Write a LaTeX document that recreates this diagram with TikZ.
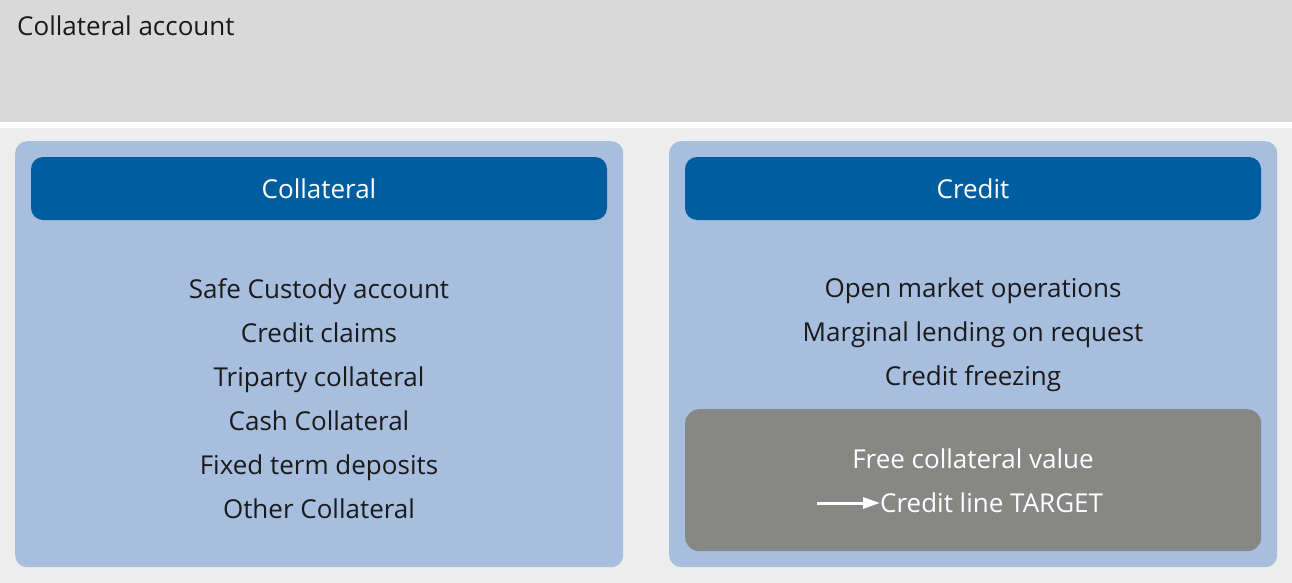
\documentclass[tikz,border=0pt]{standalone}
\usepackage{fontspec}
\setmainfont{Open Sans}
\usepackage{xcolor}
\usetikzlibrary{positioning, arrows.meta}
\definecolor{topbg}{RGB}{217,217,217}
\definecolor{pagebg}{RGB}{237,237,237}
\definecolor{panelbg}{RGB}{168,190,223}
\definecolor{headbg}{RGB}{0,94,160}
\definecolor{freebg}{RGB}{135,135,133}
\definecolor{txt}{RGB}{26,26,26}

\begin{document}
\begin{tikzpicture}[
        x=1pt, y=-1pt,
        font=\fontsize{26}{44}\selectfont,
        panel/.style={rectangle, rounded corners=12pt, fill=panelbg, minimum width=608pt, minimum height=426pt, anchor=north west, inner sep=0pt},
        head/.style={rectangle, rounded corners=12pt, fill=headbg, text=white, minimum width=576pt, minimum height=63pt, inner sep=0pt},
        freebox/.style={rectangle, rounded corners=14pt, fill=freebg, minimum width=576pt, minimum height=142pt, anchor=north west, inner sep=0pt},
        items/.style={align=center, text=txt, inner sep=0pt},
        arr/.style={-{Triangle[length=17pt, width=11pt]}, line width=3pt, white}
    ]
    \useasboundingbox (0,0) rectangle (1292,583);
    \fill[pagebg] (0,128) rectangle (1292,583);
    \fill[topbg] (0,0) rectangle (1292,122);
    \node[anchor=west, text=txt, inner sep=0pt] (title) at (17,26) {Collateral account};

    % left side
    \node[panel] (collpanel) at (15,141) {};
    \node[head] (collhead) at (319,188.5) {Collateral};
    \node[items] (colllist) at (319,399) {Safe Custody account\\Credit claims\\Triparty collateral\\Cash Collateral\\Fixed term deposits\\Other Collateral};

    % right side
    \node[panel] (credpanel) at (669,141) {};
    \node[head] (credhead) at (973,188.5) {Credit};
    \node[items] (credlist) at (973,335) {Open market operations\\Marginal lending on request\\Credit freezing};
    \node[freebox] (free) at (685,409) {};
    \node[items, text=white] (freeval) at (973,459) {Free collateral value};
    \node[items, text=white, anchor=west] (credline) at (880,503) {Credit line TARGET};
    \coordinate (arrstart) at (817,503);

    \draw[arr] (arrstart) -- (credline.west);
\end{tikzpicture}
\end{document}
